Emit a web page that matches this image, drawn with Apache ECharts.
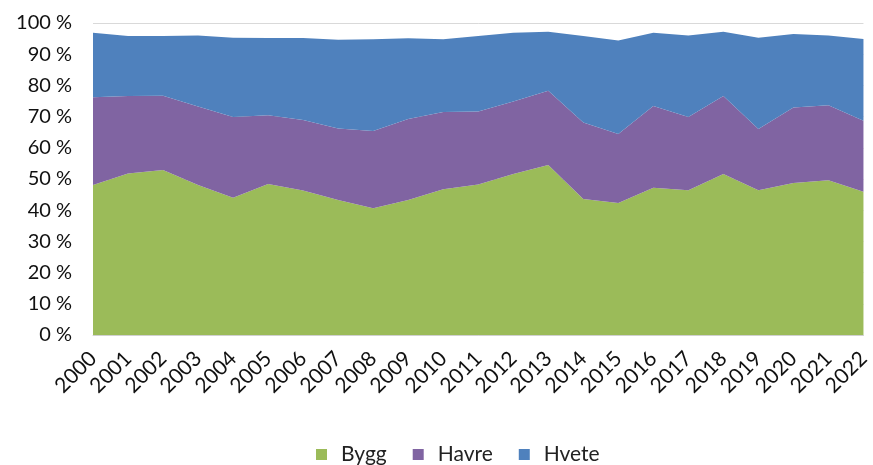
<!DOCTYPE html>
<html><head><meta charset="utf-8">
<script src="https://cdn.jsdelivr.net/npm/echarts@6/dist/echarts.min.js"></script>
<style>html,body{margin:0;padding:0;background:#fff}#c{width:873px;height:465px}</style>
</head><body><div id="c"></div>
<script>
var years = ['2000','2001','2002','2003','2004','2005','2006','2007','2008','2009','2010','2011','2012','2013','2014','2015','2016','2017','2018','2019','2020','2021','2022'];
var bygg  = [48.1,51.8,52.9,48.1,44.0,48.4,46.3,43.3,40.6,43.3,46.7,48.2,51.6,54.5,43.6,42.3,47.2,46.4,51.6,46.4,48.7,49.6,45.9];
var havre = [28.1,24.8,23.8,25.1,25.9,22.0,22.6,22.9,24.8,25.9,24.8,23.4,23.2,23.8,24.5,22.1,26.2,23.5,25.0,19.6,24.2,24.0,22.8];
var hvete = [20.7,19.2,19.1,22.8,25.4,24.8,26.3,28.4,29.4,25.9,23.3,24.2,22.1,18.9,27.7,30.0,23.5,26.1,20.6,29.3,23.6,22.4,26.2];
var yTicks = [0,10,20,30,40,50,60,70,80,90,100];

var font = 'Lato, "Open Sans", sans-serif';
function area(name, data, color) {
  return {
    name: name, type: 'line', stack: 'total', data: data,
    symbol: 'none', lineStyle: {width: 0}, areaStyle: {color: color, opacity: 1},
    itemStyle: {color: color}
  };
}
var chart = echarts.init(document.getElementById('c'), null, {renderer: 'canvas'});
chart.setOption({
  animation: false,
  textStyle: {fontFamily: font},
  grid: {left: 93, right: 3, top: 23, bottom: 130, containLabel: false},
  legend: {
    top: 439, left: 311, itemWidth: 11, itemHeight: 11, itemGap: 26,
    icon: 'rect',
    textStyle: {fontFamily: font, fontSize: 21, color: '#222', padding: [0, 0, 0, 9]},
    data: ['Bygg','Havre','Hvete']
  },
  xAxis: {
    type: 'category', data: years, boundaryGap: false,
    axisLine: {lineStyle: {color: '#d0d0d0'}},
    axisTick: {show: false},
    axisLabel: {rotate: 45, fontSize: 21, color: '#111', margin: 20, fontFamily: font, interval: 0}
  },
  yAxis: {
    type: 'value', min: 0, max: 100, interval: 10,
    axisLine: {show: false}, axisTick: {show: false},
    splitLine: {show: true, lineStyle: {color: '#d9d9d9'}},
    axisLabel: {
      fontSize: 20, color: '#111', margin: 21, fontFamily: font,
      formatter: function (v) { return yTicks.indexOf(v) >= 0 ? v + ' %' : ''; }
    }
  },
  series: [
    area('Bygg', bygg, '#9BBB59'),
    area('Havre', havre, '#8064A2'),
    area('Hvete', hvete, '#4F81BD')
  ]
});
</script></body></html>
